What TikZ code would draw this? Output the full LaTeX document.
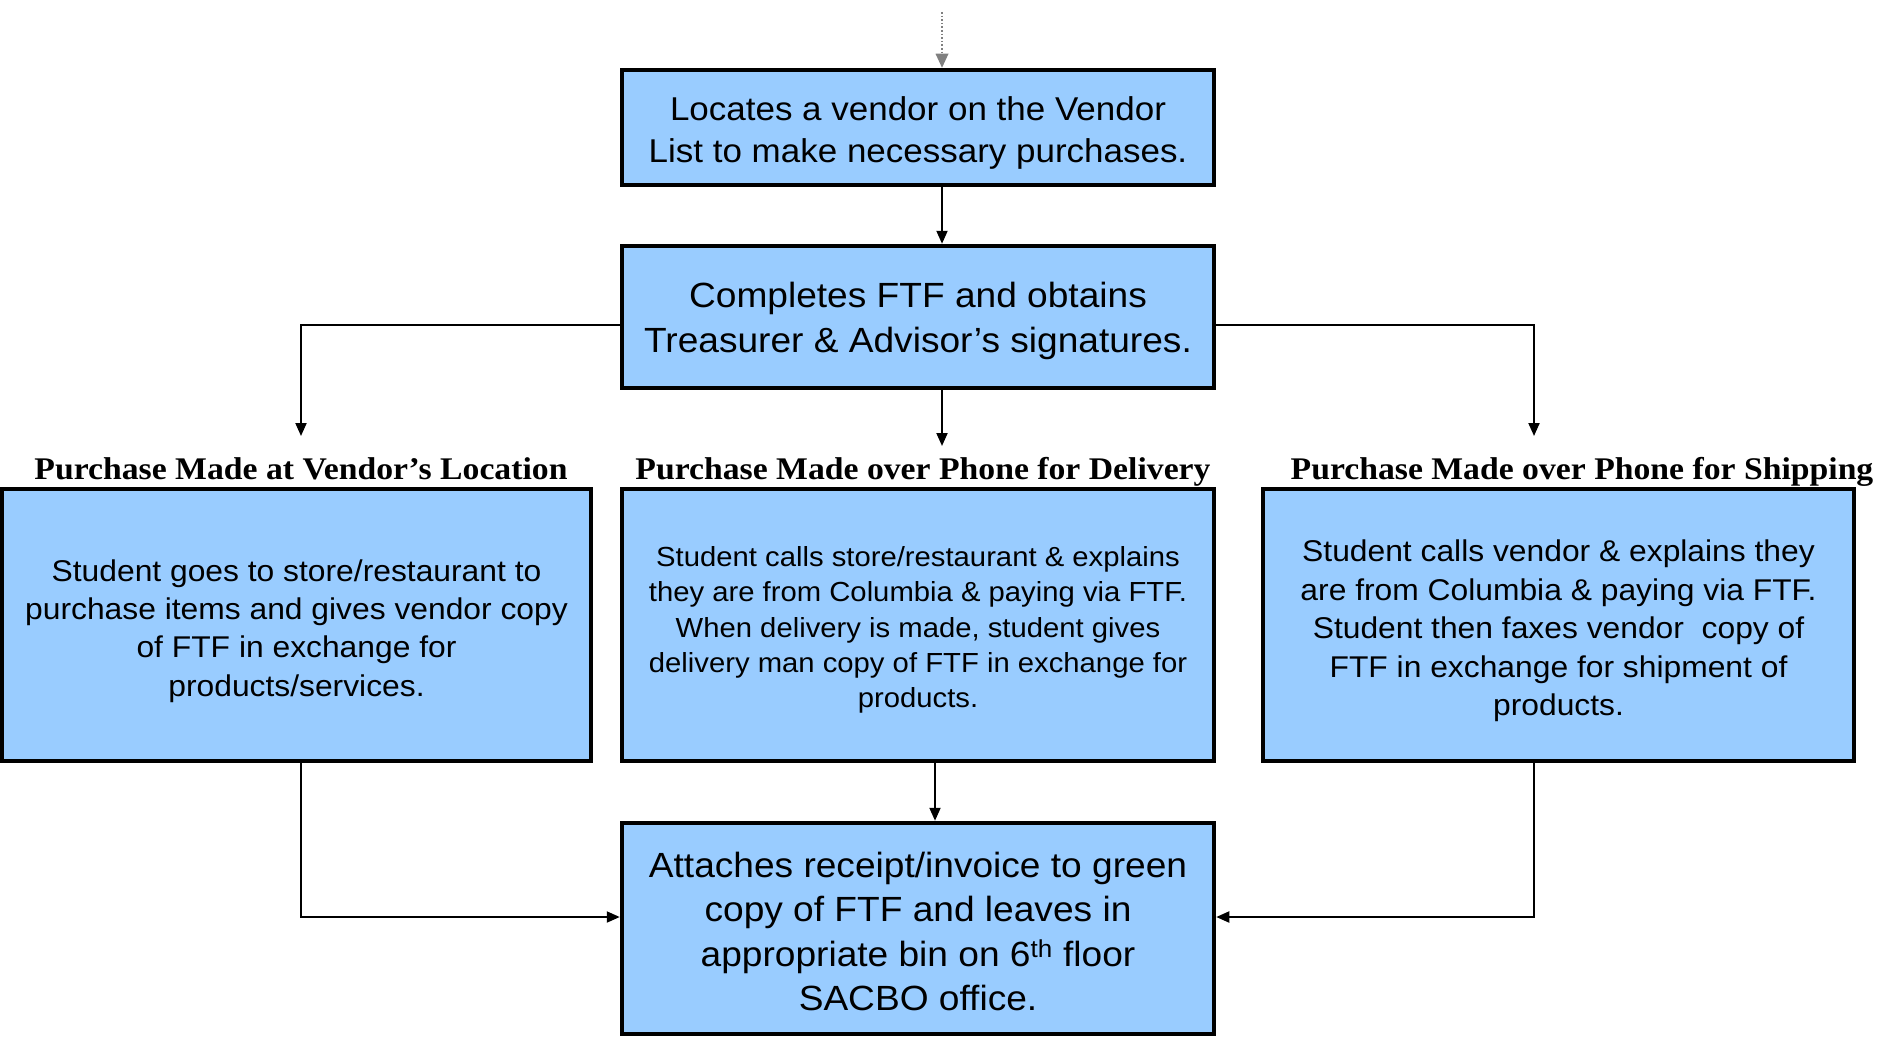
\documentclass[tikz,border=0pt]{standalone}
\usepackage{fontspec}
\setmainfont[FakeStretch=1.06]{Liberation Sans}
\newfontfamily\headfont[FakeStretch=1.07]{Liberation Serif}
\usetikzlibrary{arrows.meta,positioning}
\definecolor{boxblue}{HTML}{99CCFF}

% centred lines of a step, drawn #1 lower than their natural place
\newcommand\steplines[2]{%
  \raisebox{-#1}[\height][\depth]{\begin{tabular}{@{}c@{}}#2\end{tabular}}}

\begin{document}
\begin{tikzpicture}[x=1pt,y=-1pt,
  stepbox/.style={draw=black,fill=boxblue,line width=4.5pt,rectangle,
    inner sep=0pt},
  heading/.style={font=\headfont\bfseries\fontsize{31.5}{36}\selectfont,
    inner sep=0pt,anchor=base},
  flow/.style={line width=2pt,-{Triangle[length=13pt,width=11pt]}},
  feed/.style={line width=1.6pt,draw=gray,dotted,
    -{Triangle[length=14pt,width=13pt,fill=gray,line width=0pt]}}
]
\useasboundingbox (0,0) rectangle (1881,1038);

% main column of steps
\node[stepbox,minimum width=592pt,minimum height=115pt,
  font=\fontsize{33}{42}\selectfont] (locate) at (918,127.5)
  {\steplines{6pt}{Locates a vendor on the Vendor\\List to make necessary purchases.}};
\node[stepbox,minimum width=592pt,minimum height=142pt,
  font=\fontsize{35}{44.5}\selectfont] (complete) at (918,317)
  {\steplines{4pt}{Completes FTF and obtains\\Treasurer \& Advisor’s signatures.}};

% three purchase routes
\node[heading] (hdloc) at (301,479) {Purchase Made at Vendor’s Location};
\node[heading] (hddel) at (923,479) {Purchase Made over Phone for Delivery};
\node[heading] (hdship) at (1582,479) {Purchase Made over Phone for Shipping};

\node[stepbox,minimum width=589pt,minimum height=272pt,
  font=\fontsize{30}{38.4}\selectfont] (store) at (296.5,625)
  {\steplines{6pt}{Student goes to store/restaurant to\\purchase items and gives vendor copy\\of FTF in exchange for\\products/services.}};
\node[stepbox,minimum width=592pt,minimum height=272pt,
  font=\fontsize{27.6}{35.1}\selectfont] (delivery) at (918,625)
  {\steplines{5pt}{Student calls store/restaurant \& explains\\they are from Columbia \& paying via FTF.\\When delivery is made, student gives\\delivery man copy of FTF in exchange for\\products.}};
\node[stepbox,minimum width=591pt,minimum height=272pt,
  font=\fontsize{30}{38.4}\selectfont] (shipping) at (1558.5,625)
  {\steplines{6pt}{Student calls vendor \& explains they\\are from Columbia \& paying via FTF.\\Student then faxes vendor\ \ copy of\\FTF in exchange for shipment of\\products.}};

% final step
\node[stepbox,minimum width=592pt,minimum height=211pt,
  font=\fontsize{35}{44.5}\selectfont] (attach) at (918,928.5)
  {\steplines{6.5pt}{Attaches receipt/invoice to green\\copy of FTF and leaves in\\appropriate bin on 6\textsuperscript{th} floor\\SACBO office.}};

% routing helpers
\coordinate (entry) at (942,12);
\coordinate (split) at (0,325);
\coordinate (tipL) at (301,436);
\coordinate (tipM) at (942,446);
\coordinate (tipR) at (1534,436);
\coordinate (midx) at (935,0);
\coordinate (join) at (0,917);

% connectors
\draw[feed] (entry) -- (locate.north -| entry);
\draw[flow] (locate.south -| entry) -- (complete.north -| entry);
\draw[flow] (complete.south -| entry) -- (tipM);
\draw[flow] (complete.west |- split) -| (tipL);
\draw[flow] (complete.east |- split) -| (tipR);
\draw[flow] (delivery.south -| midx) -- (attach.north -| midx);
\draw[flow] (store.south -| tipL) |- (attach.west |- join);
\draw[flow] (shipping.south -| tipR) |- (attach.east |- join);
\end{tikzpicture}
\end{document}
